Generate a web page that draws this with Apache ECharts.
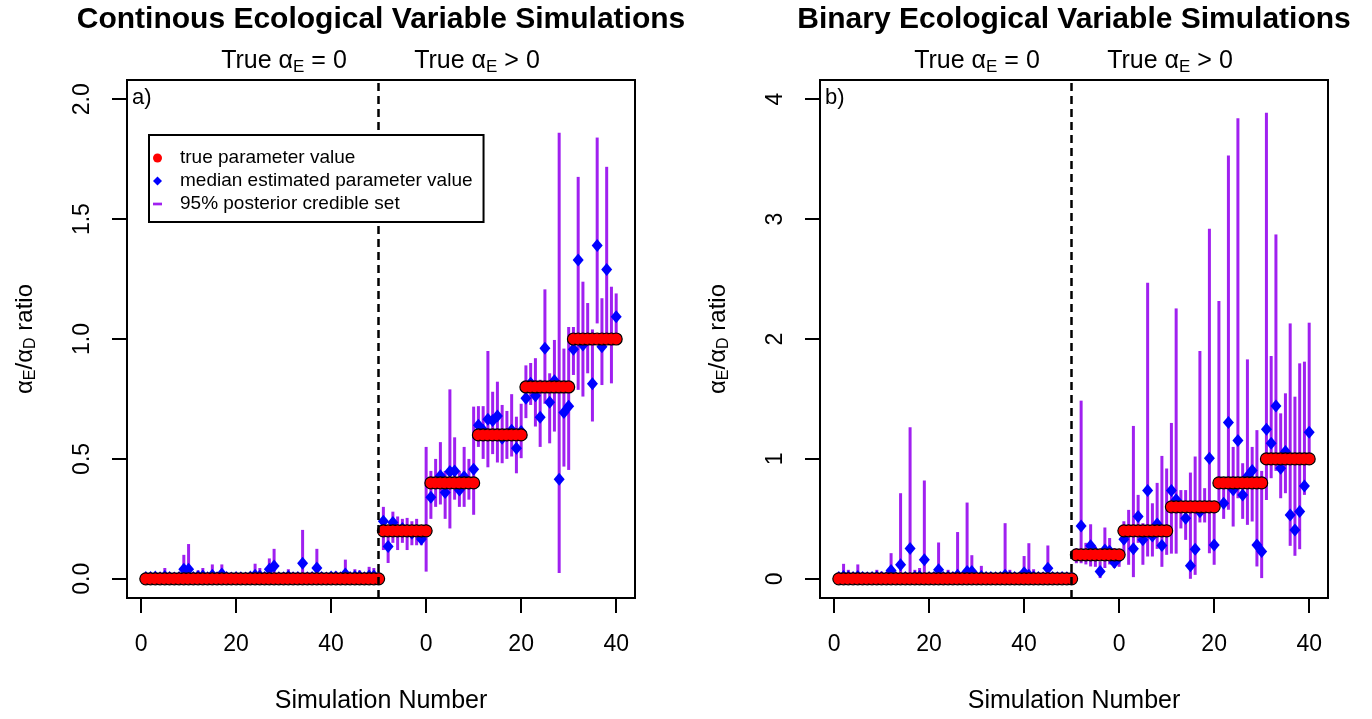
<!DOCTYPE html>
<html>
<head>
<meta charset="utf-8">
<script src="https://cdn.jsdelivr.net/npm/echarts@6.0.0/dist/echarts.min.js"></script>
<style>
html, body { margin: 0; padding: 0; background: #fff; }
#chart { width: 1372px; height: 719px; }
</style>
</head>
<body>
<div id="chart"></div>
<script>
/*global echarts*/
// true ratio per block of simulations: 50 with 0, then five blocks of 10
const trueLevels = [0, 0.2, 0.4, 0.6, 0.8, 1.0];
const groupSizes = [50, 10, 10, 10, 10, 10];

const xTickValues = [0, 20, 40, 60, 80, 100];
const xTickLabels = ['0', '20', '40', '0', '20', '40'];
const contYTicks = [0, 0.5, 1, 1.5, 2];
const contYLabels = ['0.0', '0.5', '1.0', '1.5', '2.0'];
const binYTicks = [0, 1, 2, 3, 4];
const binYLabels = ['0', '1', '2', '3', '4'];

// panel a) continuous variable
const contMedian = [
    0.005, 0.005, 0.008, 0.004, 0.01, 0.005, 0.003, 0.006, 0.04, 0.04,
    0.006, 0.01, 0.012, 0.004, 0.015, 0.004, 0.02, 0.005, 0.003, 0.006,
    0.004, 0.003, 0.008, 0.015, 0.012, 0.006, 0.04, 0.053, 0.004, 0.004,
    0.01, 0.004, 0.006, 0.065, 0.004, 0.006, 0.045, 0.006, 0.003, 0.008,
    0.008, 0.004, 0.02, 0.006, 0.01, 0.01, 0.004, 0.012, 0.012, 0.005,
    0.24, 0.135, 0.235, 0.2, 0.21, 0.2, 0.19, 0.2, 0.166, 0.2,
    0.34, 0.4, 0.43, 0.36, 0.447, 0.45, 0.37, 0.426, 0.4, 0.457,
    0.64, 0.62, 0.665, 0.66, 0.679, 0.586, 0.6, 0.62, 0.544, 0.614,
    0.753, 0.815, 0.763, 0.674, 0.961, 0.736, 0.826, 0.415, 0.693, 0.72,
    0.957, 1.329, 0.975, 1.0, 0.813, 1.39, 0.968, 1.29, 1.0, 1.093
];
const contLower = [
    0, 0, 0, 0, 0, 0, 0, 0, 0, 0,
    0, 0, 0, 0, 0, 0, 0, 0, 0, 0,
    0, 0, 0, 0, 0, 0, 0, 0, 0, 0,
    0, 0, 0, 0, 0, 0, 0, 0, 0, 0,
    0, 0, 0, 0, 0, 0, 0, 0, 0, 0,
    0.12, 0.066, 0.15, 0.12, 0.15, 0.12, 0.14, 0.14, 0.14, 0.03,
    0.25, 0.3, 0.31, 0.25, 0.21, 0.33, 0.3, 0.3, 0.33, 0.267,
    0.55, 0.5, 0.465, 0.52, 0.485, 0.482, 0.5, 0.51, 0.44, 0.503,
    0.67, 0.725, 0.635, 0.55, 0.73, 0.565, 0.614, 0.024, 0.468, 0.454,
    0.85, 0.788, 0.76, 0.857, 0.656, 1.065, 0.808, 1.0, 0.815, 0.98
];
const contUpper = [
    0.012, 0.015, 0.02, 0.012, 0.045, 0.015, 0.01, 0.02, 0.1, 0.145,
    0.025, 0.035, 0.045, 0.015, 0.06, 0.012, 0.06, 0.015, 0.012, 0.02,
    0.015, 0.01, 0.025, 0.063, 0.045, 0.02, 0.085, 0.125, 0.015, 0.012,
    0.04, 0.015, 0.02, 0.204, 0.015, 0.02, 0.125, 0.02, 0.012, 0.025,
    0.03, 0.015, 0.08, 0.02, 0.04, 0.035, 0.015, 0.05, 0.045, 0.02,
    0.3, 0.22, 0.28, 0.26, 0.25, 0.254, 0.24, 0.25, 0.22, 0.55,
    0.45, 0.5, 0.57, 0.45, 0.79, 0.59, 0.45, 0.55, 0.5, 0.718,
    0.72, 0.72, 0.95, 0.78, 0.822, 0.725, 0.7, 0.77, 0.676, 0.73,
    0.89, 0.9, 0.92, 0.83, 1.207, 0.857, 0.996, 1.86, 0.96, 1.05,
    1.05, 1.676, 1.239, 1.15, 1.04, 1.84, 1.17, 1.718, 1.218, 1.19
];

// panel b) binary variable
const binMedian = [
    0.01, 0.02, 0.015, 0.01, 0.02, 0.01, 0.008, 0.01, 0.015, 0.012,
    0.01, 0.07, 0.01, 0.117, 0.012, 0.253, 0.015, 0.02, 0.158, 0.01,
    0.012, 0.075, 0.01, 0.015, 0.01, 0.03, 0.012, 0.06, 0.06, 0.01,
    0.02, 0.01, 0.012, 0.008, 0.01, 0.03, 0.015, 0.01, 0.008, 0.05,
    0.03, 0.015, 0.01, 0.008, 0.089, 0.01, 0.008, 0.01, 0.008, 0.01,
    0.2, 0.44, 0.2, 0.275, 0.22, 0.061, 0.24, 0.23, 0.136, 0.18,
    0.33, 0.4, 0.25, 0.52, 0.325, 0.736, 0.358, 0.458, 0.278, 0.4,
    0.736, 0.66, 0.61, 0.505, 0.108, 0.247, 0.56, 0.6, 1.006, 0.283,
    0.8, 0.63, 1.303, 0.742, 1.153, 0.7, 0.853, 0.903, 0.283, 0.228,
    1.247, 1.13, 1.442, 0.922, 1.061, 0.533, 0.408, 0.561, 0.775, 1.222
];
const binLower = [
    0, 0, 0, 0, 0, 0, 0, 0, 0, 0,
    0, 0, 0, 0, 0, 0, 0, 0, 0, 0,
    0, 0, 0, 0, 0, 0, 0, 0, 0, 0,
    0, 0, 0, 0, 0, 0, 0, 0, 0, 0,
    0, 0, 0, 0, 0, 0, 0, 0, 0, 0,
    0.13, 0.13, 0.12, 0.103, 0.1, 0.006, 0.09, 0.12, 0.09, 0.1,
    0.2, 0.117, 0.014, 0.3, 0.117, 0.186, 0.186, 0.25, 0.1, 0.2,
    0.21, 0.21, 0.42, 0.325, 0.0, 0.033, 0.47, 0.47, 0.214, 0.117,
    0.63, 0.5, 0.575, 0.436, 0.672, 0.5, 0.45, 0.478, 0.103, 0.006,
    0.658, 0.839, 0.9, 0.672, 0.714, 0.275, 0.192, 0.247, 0.7, 1.0
];
const binUpper = [
    0.05, 0.125, 0.075, 0.04, 0.12, 0.04, 0.03, 0.04, 0.075, 0.06,
    0.05, 0.214, 0.04, 0.714, 0.05, 1.264, 0.075, 0.09, 0.82, 0.04,
    0.05, 0.303, 0.04, 0.075, 0.04, 0.39, 0.05, 0.636, 0.197, 0.04,
    0.108, 0.04, 0.05, 0.03, 0.04, 0.464, 0.075, 0.04, 0.03, 0.19,
    0.297, 0.08, 0.04, 0.03, 0.278, 0.04, 0.03, 0.04, 0.03, 0.04,
    0.255, 1.486, 0.3, 0.455, 0.27, 0.144, 0.428, 0.34, 0.255, 0.24,
    0.48, 0.575, 1.275, 0.7, 0.464, 2.47, 0.63, 0.8, 1.025, 0.92,
    1.3, 2.255, 0.74, 0.74, 0.886, 1.02, 1.9, 0.756, 2.92, 0.65,
    2.317, 0.75, 3.53, 1.1, 3.84, 0.964, 1.83, 1.1, 1.24, 0.9,
    3.886, 1.858, 2.872, 1.38, 1.547, 2.13, 1.519, 1.797, 1.811, 2.136
];

const NAME_TRUE = 'true parameter value';
const NAME_MED = 'median estimated parameter value';
const NAME_CI = '95% posterior credible set';
const PURPLE = '#a020f0';
const FONT = '"Liberation Sans", Arial, sans-serif';

const getTrueVals = () => {
    const vals = [];
    trueLevels.forEach((v, i) => {
        for (let k = 0; k < groupSizes[i]; k += 1) {
            vals.push(v);
        }
    });
    return vals;
};

const trueVals = getTrueVals();
const sims = trueVals.map((v, i) => i + 1);

const getXAxisOpt = (idx) => ({
    type: 'value',
    gridIndex: idx,
    min: -2.96,
    max: 103.96,
    axisLine: { show: false, onZero: false },
    splitLine: { show: false },
    axisTick: {
        show: true,
        inside: false,
        customValues: xTickValues,
        length: 15,
        lineStyle: { color: '#000', width: 2 }
    },
    axisLabel: {
        customValues: xTickValues,
        formatter: v => xTickLabels[xTickValues.indexOf(v)],
        margin: 35,
        fontFamily: FONT,
        fontSize: 23,
        color: '#000'
    },
    name: 'Simulation Number',
    nameLocation: 'middle',
    nameGap: 91,
    nameTextStyle: { fontFamily: FONT, fontSize: 25, color: '#000' }
});

const getYAxisOpt = (idx, ticks, labels, max) => ({
    type: 'value',
    gridIndex: idx,
    min: -max * 0.04,
    max: max * 1.04,
    axisLine: { show: false, onZero: false },
    splitLine: { show: false },
    axisTick: {
        show: true,
        inside: false,
        customValues: ticks,
        length: 15,
        lineStyle: { color: '#000', width: 2 }
    },
    axisLabel: {
        customValues: ticks,
        formatter: v => labels[ticks.indexOf(v)],
        rotate: 90,
        margin: 33,
        fontFamily: FONT,
        fontSize: 23,
        color: '#000'
    },
    name: '{n|α}{s|E}{n|/α}{s|D}{n| ratio}',
    nameLocation: 'middle',
    nameRotate: 90,
    nameGap: 88,
    nameTextStyle: {
        color: '#000',
        rich: {
            n: { fontFamily: FONT, fontSize: 24, lineHeight: 27 },
            s: { fontFamily: FONT, fontSize: 16, lineHeight: 16, verticalAlign: 'bottom' }
        }
    }
});

const getSeries = (idx, med, lo, hi) => ([
    {
        name: NAME_CI,
        type: 'custom',
        xAxisIndex: idx,
        yAxisIndex: idx,
        silent: true,
        animation: false,
        itemStyle: { color: PURPLE },
        encode: { x: 0, y: [1, 2] },
        data: sims.map((s, i) => [s, lo[i], hi[i]]),
        renderItem: (params, api) => {
            const p1 = api.coord([api.value(0), api.value(1)]);
            const p2 = api.coord([api.value(0), api.value(2)]);
            return {
                type: 'line',
                shape: { x1: p1[0], y1: p1[1], x2: p2[0], y2: p2[1] },
                style: { stroke: PURPLE, lineWidth: 3 }
            };
        }
    },
    {
        name: NAME_MED,
        type: 'scatter',
        xAxisIndex: idx,
        yAxisIndex: idx,
        silent: true,
        animation: false,
        symbol: 'diamond',
        symbolSize: [11, 13],
        itemStyle: { color: '#0000ff', opacity: 1 },
        data: sims.map((s, i) => [s, med[i]])
    },
    {
        // outlined circles
        name: NAME_TRUE,
        type: 'scatter',
        xAxisIndex: idx,
        yAxisIndex: idx,
        silent: true,
        animation: false,
        symbol: 'circle',
        symbolSize: 12,
        itemStyle: { color: '#ff0000', borderColor: '#000', borderWidth: 1.2, opacity: 1 },
        data: sims.map((s, i) => [s, trueVals[i]]),
        markLine: {
            silent: true,
            symbol: 'none',
            animation: false,
            label: { show: false },
            lineStyle: { color: '#000', type: [8, 5], width: 2.5 },
            data: [{ xAxis: 50 }]
        }
    },
    {
        // red fill on top, so only the outer edge of the run keeps its outline
        name: NAME_TRUE,
        type: 'scatter',
        xAxisIndex: idx,
        yAxisIndex: idx,
        silent: true,
        animation: false,
        symbol: 'circle',
        symbolSize: 10,
        itemStyle: { color: '#ff0000', borderWidth: 0, opacity: 1 },
        data: sims.map((s, i) => [s, trueVals[i]])
    }
]);

const subRich = {
    n: { fontFamily: FONT, fontSize: 25, lineHeight: 29, fill: '#000' },
    s: { fontFamily: FONT, fontSize: 17, lineHeight: 17, verticalAlign: 'bottom', fill: '#000' }
};

const getPanelText = (left, title, letter) => ([
    {
        type: 'text', x: left + 254, y: 20,
        style: { text: title, font: 'bold 30px ' + FONT, fill: '#000', align: 'center', verticalAlign: 'middle' }
    },
    {
        type: 'text', x: left + 157, y: 61,
        style: { text: '{n|True α}{s|E}{n| = 0}', rich: subRich, align: 'center', verticalAlign: 'middle' }
    },
    {
        type: 'text', x: left + 350, y: 61,
        style: { text: '{n|True α}{s|E}{n| > 0}', rich: subRich, align: 'center', verticalAlign: 'middle' }
    },
    {
        type: 'text', x: left + 5, y: 98,
        style: { text: letter, font: '22px ' + FONT, fill: '#000', align: 'left', verticalAlign: 'middle' }
    }
]);

const option = {
    backgroundColor: '#fff',
    animation: false,
    grid: [
        { left: 127, top: 80, width: 508, height: 518, show: true, borderColor: '#000', borderWidth: 2, outerBoundsMode: 'none' },
        { left: 820, top: 80, width: 508, height: 518, show: true, borderColor: '#000', borderWidth: 2, outerBoundsMode: 'none' }
    ],
    xAxis: [getXAxisOpt(0), getXAxisOpt(1)],
    yAxis: [
        getYAxisOpt(0, contYTicks, contYLabels, 2),
        getYAxisOpt(1, binYTicks, binYLabels, 4)
    ],
    legend: {
        z: 20,
        left: 149,
        top: 135,
        orient: 'vertical',
        selectedMode: false,
        backgroundColor: '#fff',
        borderColor: '#000',
        borderWidth: 2,
        borderRadius: 0,
        padding: [13, 11, 8, 4],
        itemWidth: 9,
        itemHeight: 9,
        itemGap: 3,
        textStyle: { fontFamily: FONT, fontSize: 19, color: '#000', padding: [0, 0, 0, 13], lineHeight: 20 },
        data: [
            { name: NAME_TRUE, icon: 'circle', itemStyle: { color: '#ff0000', borderWidth: 0 } },
            { name: NAME_MED, icon: 'diamond', itemStyle: { color: '#0000ff', borderWidth: 0 } },
            { name: NAME_CI, icon: 'path://M0,0H10V3H0Z', itemStyle: { color: PURPLE, borderWidth: 0 } }
        ]
    },
    graphic: [
        ...getPanelText(127, 'Continous Ecological Variable Simulations', 'a)'),
        ...getPanelText(820, 'Binary Ecological Variable Simulations', 'b)')
    ],
    series: [
        ...getSeries(0, contMedian, contLower, contUpper),
        ...getSeries(1, binMedian, binLower, binUpper)
    ]
};

const myChart = echarts.init(document.getElementById('chart'), null, { renderer: 'canvas' });
myChart.setOption(option);
</script>
</body>
</html>
